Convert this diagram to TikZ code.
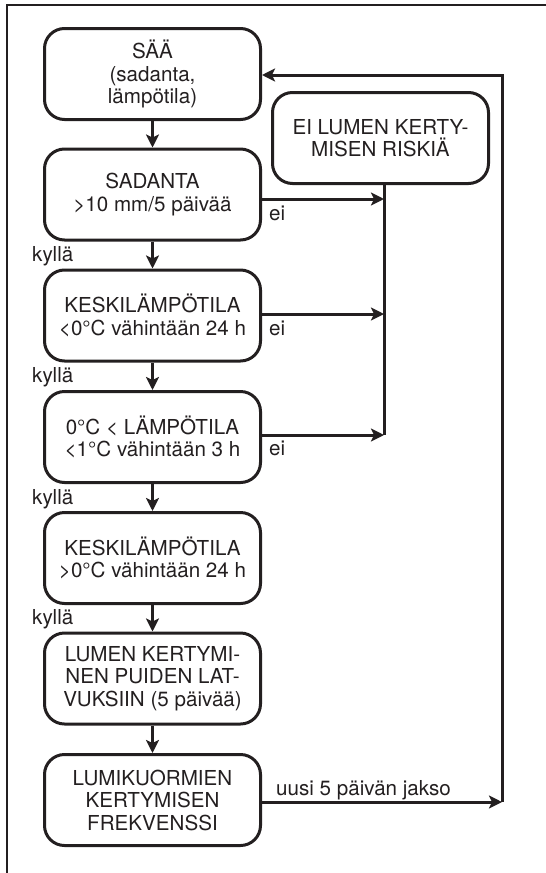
\documentclass[tikz,border=0pt]{standalone}
\usepackage{fontspec}
\setmainfont{TeX Gyre Heros}
\usetikzlibrary{arrows.meta}
\definecolor{ink}{HTML}{231F20}
\begin{document}
\begin{tikzpicture}[x=1pt,y=-1pt,
  box/.style={draw=ink, line width=3pt, rounded corners=20pt, minimum width=216pt, minimum height=91pt, align=center, inner sep=0pt, font=\fontsize{20.6}{22.5}\selectfont, text=ink},
  lbl/.style={font=\fontsize{20.6}{22.5}\selectfont, text=ink, inner sep=0pt},
  ln/.style={draw=ink, line width=3pt},
  arr/.style={ln, -{Stealth[length=13pt,width=13pt,inset=3pt]}}]
\useasboundingbox (0,0) rectangle (546,873);
\draw[ln, line width=2.5pt] (7,873) -- (7,5) -- (546,5);
% boxes
\node[box] (saa) at (152.5,74) {SÄÄ\\(sadanta,\\lämpötila)};
\node[box] (eir) at (380.5,138) {EI LUMEN KERTY-\\MISEN RISKIÄ};
\node[box] (sad) at (152.5,194.5) {SADANTA\\>10 mm/5 päivää};
\node[box] (k1) at (152.5,315.5) {KESKILÄMPÖTILA\\<0°C vähintään 24 h};
\node[box] (lt) at (152.5,437) {0°C < LÄMPÖTILA\\<1°C vähintään 3 h};
\node[box] (k2) at (152.5,558) {KESKILÄMPÖTILA\\>0°C vähintään 24 h};
\node[box] (lk) at (152.5,678.5) {LUMEN KERTYMI-\\NEN PUIDEN LAT-\\VUKSIIN (5 päivää)};
\node[box] (fr) at (152.5,800) {LUMIKUORMIEN\\KERTYMISEN\\FREKVENSSI};
% main flow
\draw[arr] (saa) -- (sad);
\draw[arr] (sad) -- (k1);
\draw[arr] (k1) -- (lt);
\draw[arr] (lt) -- (k2);
\draw[arr] (k2) -- (lk);
\draw[arr] (lk) -- (fr);
% "ei" branches
\coordinate (e1) at (384,199);
\coordinate (e2) at (384,314);
\coordinate (e3) at (384,435);
\draw[ln] ([xshift=3.5pt]eir.south) -- (e3);
\draw[arr] (sad.east |- e1) -- (e1);
\draw[arr] (k1.east |- e2) -- (e2);
\draw[arr] (lt.east |- e3) -- (e3);
% feedback loop
\coordinate (r1) at (502,802);
\coordinate (r2) at (502,75);
\draw[arr] (fr.east |- r1) -- (r1);
\draw[arr] (r1) -- (r2) -- (saa.east |- r2);
% labels
\node[lbl, anchor=base west] (ky1) at (32,261) {kyllä};
\node[lbl, anchor=base west] (ky2) at (32,382) {kyllä};
\node[lbl, anchor=base west] (ky3) at (32,504) {kyllä};
\node[lbl, anchor=base west] (ky4) at (32,624) {kyllä};
\node[lbl, anchor=base west] (ei1) at (269,220) {ei};
\node[lbl, anchor=base west] (ei2) at (269,335) {ei};
\node[lbl, anchor=base west] (ei3) at (269,455) {ei};
\node[lbl, anchor=base west] (uu) at (276,795) {uusi 5 päivän jakso};
\end{tikzpicture}
\end{document}
